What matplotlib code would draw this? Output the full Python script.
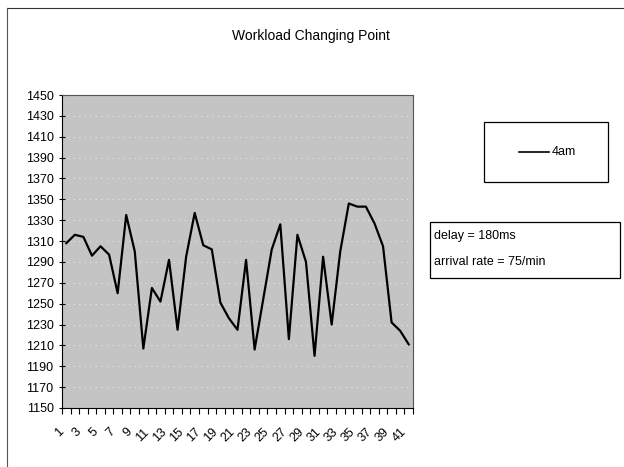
import matplotlib.pyplot as plt
import matplotlib.patches as patches
from matplotlib.lines import Line2D

plt.rcParams['font.family'] = ['Liberation Sans', 'DejaVu Sans']

# values (41 samples)
points = list(range(1, 42))
load_4am = [1308, 1316, 1314, 1296, 1305, 1297, 1260, 1335, 1300, 1207,
            1265, 1252, 1292, 1225, 1295, 1337, 1306, 1302, 1251, 1236,
            1225, 1292, 1206, 1254, 1302, 1326, 1216, 1316, 1290, 1200,
            1295, 1230, 1300, 1346, 1343, 1343, 1327, 1305, 1232, 1224, 1211]
tick_labels = [str(i) for i in range(1, 42, 2)]
y_ticks = list(range(1150, 1451, 20))

fig = plt.figure(figsize=(6.24, 4.67), dpi=100)
ax = fig.add_axes([62/624, 1-408/467, 351/624, 313/467])

ax.set_facecolor('#c4c4c4')
ax.plot(points, load_4am, color='black', lw=1.6)

ax.set_xlim(0.5, 41.5)
ax.set_ylim(1150, 1450)
ax.set_yticks(y_ticks)
ax.set_yticklabels([str(v) for v in y_ticks], fontsize=9)
ax.grid(axis='y', color='#e6e6e6', ls=(0, (1, 4)), lw=0.8)

ax.set_xticks(range(1, 42, 2))
ax.set_xticklabels(tick_labels, rotation=45, ha='right', va='top', fontsize=9)
ax.set_xticks([i + 0.5 for i in range(0, 42)], minor=True)
ax.tick_params(axis='x', which='major', length=0, pad=13)
ax.tick_params(axis='x', which='minor', length=4, direction='out', width=0.8)
ax.tick_params(axis='y', length=4, direction='inout', width=0.8, pad=4)
for s in ax.spines.values():
    s.set_linewidth(0.8)
    s.set_color('#555555')
ax.spines['bottom'].set_color('black')
ax.spines['left'].set_color('black')

fig.text(311/624, 1-36/467, 'Workload Changing Point', ha='center', va='center', fontsize=10)

# outer chart border (top and left only visible)
fig.add_artist(Line2D([7/624, 1], [1-8/467, 1-8/467], color='#333333', lw=0.8))
fig.add_artist(Line2D([7/624, 7/624], [0, 1-8/467], color='#555555', lw=0.8))

# legend box
fig.add_artist(patches.Rectangle((484/624, 1-182/467), 124/624, 60/467,
                                 fill=False, ec='black', lw=0.9))
fig.add_artist(Line2D([519/624, 549/624], [1-152/467, 1-152/467], color='black', lw=1.2))
fig.text(552/624, 1-152/467, '4am', ha='left', va='center', fontsize=9)

# info box
fig.add_artist(patches.Rectangle((430/624, 1-278/467), 190/624, 56/467,
                                 fill=False, ec='black', lw=0.9))
fig.text(434/624, 1-236/467, 'delay = 180ms', ha='left', va='center', fontsize=9)
fig.text(434/624, 1-262/467, 'arrival rate = 75/min', ha='left', va='center', fontsize=9)

fig.savefig('out.png', dpi=100)
